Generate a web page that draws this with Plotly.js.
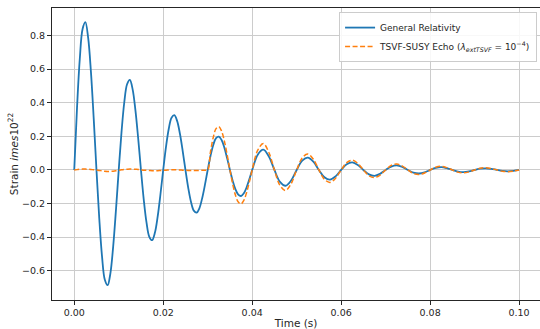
<!DOCTYPE html>
<html>
<head>
<meta charset="utf-8">
<script src="https://cdn.plot.ly/plotly-3.0.1.min.js"></script>
<style>html,body{margin:0;padding:0;background:#fff;}#chart{width:540px;height:329px;}</style>
</head>
<body>
<div id="chart"></div>
<script>
var time = [0, 0.000625, 0.00125, 0.001875, 0.0025, 0.003125, 0.00375, 0.004375, 0.005, 0.005625,
  0.00625, 0.006875, 0.0075, 0.008125, 0.00875, 0.009375, 0.01, 0.010625, 0.01125, 0.011875,
  0.0125, 0.013125, 0.01375, 0.014375, 0.015, 0.015625, 0.01625, 0.016875, 0.0175, 0.018125,
  0.01875, 0.019375, 0.02, 0.020625, 0.02125, 0.021875, 0.0225, 0.023125, 0.02375, 0.024375,
  0.025, 0.025625, 0.02625, 0.026875, 0.0275, 0.028125, 0.02875, 0.029375, 0.03, 0.030625,
  0.03125, 0.031875, 0.0325, 0.033125, 0.03375, 0.034375, 0.035, 0.035625, 0.03625, 0.036875,
  0.0375, 0.038125, 0.03875, 0.039375, 0.04,
  0.04125, 0.0425, 0.04375, 0.045, 0.04625, 0.0475, 0.04875,
  0.05, 0.05125, 0.0525, 0.05375, 0.055, 0.05625, 0.0575, 0.05875, 0.06, 0.06125,
  0.0625, 0.06375, 0.065, 0.06625, 0.0675, 0.06875, 0.07, 0.07125, 0.0725, 0.07375,
  0.075, 0.07625, 0.0775, 0.07875, 0.08, 0.08125, 0.0825, 0.08375, 0.085, 0.08625,
  0.0875, 0.08875, 0.09, 0.09125, 0.0925, 0.09375, 0.095, 0.09625, 0.0975, 0.09875, 0.1];

var grStrain = [0, 0.370, 0.662, 0.839, 0.880, 0.788, 0.585, 0.307, 0, -0.289,
  -0.516, -0.654, -0.686, -0.615, -0.456, -0.239, 0, 0.225, 0.403, 0.510,
  0.536, 0.480, 0.356, 0.187, 0, -0.176, -0.314, -0.398, -0.418, -0.374,
  -0.278, -0.146, 0, 0.137, 0.245, 0.311, 0.326, 0.292, 0.217, 0.114,
  0, -0.107, -0.191, -0.242, -0.254, -0.228, -0.169, -0.089, 0, 0.083,
  0.149, 0.189, 0.198, 0.178, 0.132, 0.069, 0, -0.065, -0.116, -0.147,
  -0.155, -0.139, -0.103, -0.054, 0,
  0.091, 0.121, 0.080, 0, -0.071, -0.094, -0.063,
  0, 0.055, 0.073, 0.049, 0, -0.043, -0.057, -0.038, 0, 0.034,
  0.045, 0.030, 0, -0.026, -0.035, -0.023, 0, 0.020, 0.027, 0.018,
  0, -0.016, -0.021, -0.014, 0, 0.012, 0.017, 0.011, 0, -0.0097,
  -0.013, -0.0086, 0, 0.0076, 0.010, 0.0067, 0, -0.0059, -0.008, -0.0052, 0];

var echoStrain = [0, 0.002, 0.004, 0.005, 0.005, 0.004, 0.003, 0.001, 0, -0.003,
  -0.005, -0.008, -0.009, -0.008, -0.007, -0.005, -0.002, 0.001, 0.003, 0.004,
  0.005, 0.005, 0.004, 0.003, 0.001, -0.001, -0.002, -0.003, -0.004, -0.004,
  -0.004, -0.003, -0.002, -0.001, 0, 0.001, 0.001, 0.001, 0, -0.001,
  -0.002, -0.003, -0.003, -0.003, -0.003, -0.003, -0.002, -0.001, 0, 0.108,
  0.194, 0.246, 0.258, 0.231, 0.172, 0.090, 0, -0.085, -0.151, -0.191,
  -0.202, -0.181, -0.134, -0.070, 0,
  0.118, 0.157, 0.104, 0, -0.092, -0.122, -0.082,
  0, 0.072, 0.095, 0.064, 0, -0.056, -0.074, -0.049, 0, 0.044,
  0.058, 0.039, 0, -0.034, -0.045, -0.030, 0, 0.027, 0.035, 0.023,
  0, -0.021, -0.027, -0.018, 0, 0.016, 0.022, 0.014, 0, -0.013,
  -0.017, -0.011, 0, 0.010, 0.013, 0.0087, 0, -0.0077, -0.010, -0.0068, 0];

var seriesNames = ["General Relativity",
  "TSVF-SUSY Echo (<i>λ</i><sub><i>extTSVF</i></sub> = 10<sup>−4</sup>)"];

var traces = [
  {x: time, y: grStrain, type: "scatter", mode: "lines", name: seriesNames[0],
   line: {color: "#1f77b4", width: 1.8, shape: "spline", smoothing: 1}},
  {x: time, y: echoStrain, type: "scatter", mode: "lines", name: seriesNames[1],
   line: {color: "#ff7f0e", width: 1.5, dash: "5px,2.5px", shape: "spline", smoothing: 1}}
];

var axisCommon = {
  showline: true, mirror: true, linecolor: "#262626", linewidth: 1,
  ticks: "outside", ticklen: 4, tickcolor: "#262626", tickwidth: 1,
  showgrid: true, gridcolor: "#cccccc", gridwidth: 1, zeroline: false,
  tickfont: {family: "DejaVu Sans", size: 9.5, color: "#262626"}
};

var layout = {
  width: 540, height: 329,
  margin: {l: 52, r: 0, t: 8, b: 29},
  paper_bgcolor: "#ffffff", plot_bgcolor: "#ffffff",
  showlegend: true,
  xaxis: Object.assign({}, axisCommon, {
    range: [-0.005, 0.1047], dtick: 0.02, tick0: 0, tickformat: ".2f",
    title: {text: "Time (s)", font: {family: "DejaVu Sans", size: 10.5, color: "#262626"}, standoff: 4}
  }),
  yaxis: Object.assign({}, axisCommon, {
    range: [-0.774, 0.964], dtick: 0.2, tick0: 0, tickformat: ".1f",
    title: {text: "Strain <i>imes</i>10<sup>22</sup>", font: {family: "DejaVu Sans", size: 10.5, color: "#262626"}, standoff: 1}
  }),
  legend: {
    x: 0.994, y: 0.986, xanchor: "right", yanchor: "top",
    bgcolor: "rgba(255,255,255,0.85)", bordercolor: "#cccccc", borderwidth: 1,
    font: {family: "DejaVu Sans", size: 9, color: "#262626"},
    tracegroupgap: 0, itemwidth: 30
  }
};

Plotly.newPlot("chart", traces, layout, {displayModeBar: false, staticPlot: true});
</script>
</body>
</html>
